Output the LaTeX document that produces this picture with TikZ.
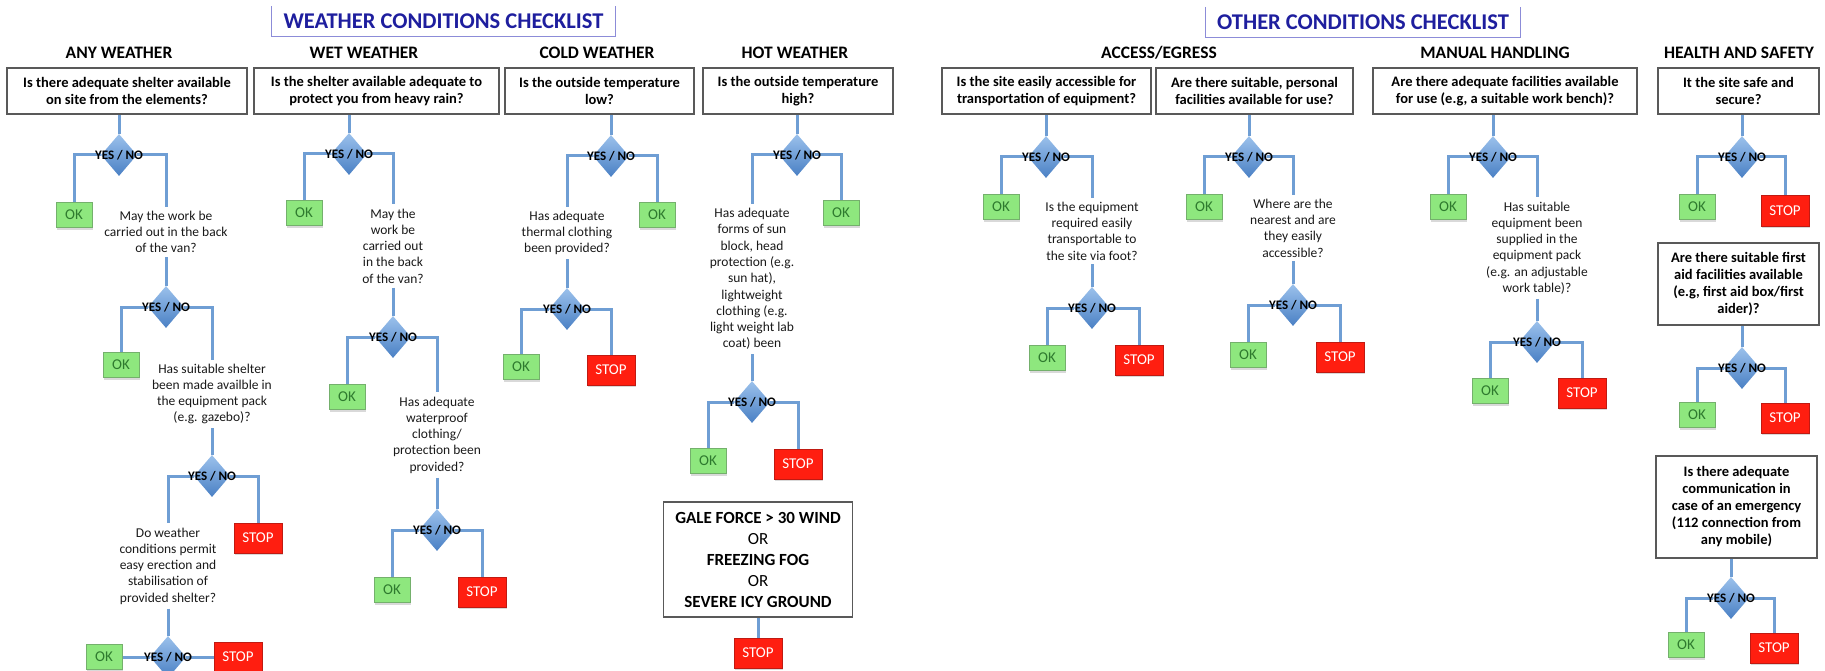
\documentclass[tikz,border=0pt]{standalone}
\usepackage{fontspec}
\setmainfont{Carlito}
\usetikzlibrary{shapes.geometric,backgrounds,shadows}

\definecolor{linkblue}{HTML}{6F9ED4}
\definecolor{diatop}{HTML}{9BC1EC}
\definecolor{diabot}{HTML}{4A80C4}
\definecolor{okfill}{HTML}{8EE77E}
\definecolor{okline}{HTML}{74B06C}
\definecolor{oktext}{HTML}{2E7A2E}
\definecolor{stopfill}{HTML}{FF1E10}
\definecolor{stopline}{HTML}{C01A12}
\definecolor{titleblue}{HTML}{1E1E9E}
\definecolor{titleframe}{HTML}{8C8CD8}

\tikzset{
  question/.style={draw=black!65, line width=1.4pt, fill=white, align=center, inner sep=2pt,
    font=\bfseries\fontsize{14.5}{17}\selectfont},
  heading/.style={font=\bfseries\fontsize{17.5}{20}\selectfont},
  note/.style={align=center, inner sep=4pt, text=black!90, font=\fontsize{13.5}{16.3}\selectfont},
  decision/.style={diamond, minimum width=36pt, minimum height=42pt, inner sep=0pt,
    top color=diatop, bottom color=diabot,
    label={[inner sep=0pt, font=\bfseries\fontsize{13}{13}\selectfont]center:YES / NO}},
  okbox/.style={draw=okline, line width=1pt, fill=okfill, text=oktext, inner sep=0pt,
    minimum width=36pt, minimum height=25pt, font=\fontsize{15}{15}\selectfont,
    drop shadow={opacity=0.3, shadow xshift=1pt, shadow yshift=-2pt}},
  stopbox/.style={draw=stopline, line width=1pt, fill=stopfill, text=white, inner sep=0pt,
    minimum width=48pt, minimum height=30pt, font=\fontsize{15}{15}\selectfont,
    drop shadow={opacity=0.3, shadow xshift=1pt, shadow yshift=-2pt}},
  conn/.style={draw=linkblue, line width=3pt},
  titletext/.style={text=titleblue, minimum height=30pt, font=\bfseries\fontsize{22.5}{25}\selectfont},
  titleside/.style={draw=titleframe, line width=1.2pt},
}

\begin{document}
\begin{tikzpicture}[x=1pt,y=-1pt]
      \useasboundingbox (0,0) rectangle (1825,671);

      \node[titletext, minimum width=343pt] (wtitle) at (443.5,21.5) {WEATHER CONDITIONS CHECKLIST};
      \node[titletext, minimum width=314pt] (otitle) at (1363,22) {OTHER CONDITIONS CHECKLIST};
      \draw[titleside] (wtitle.north west) -- (wtitle.south west) -- (wtitle.south east) -- (wtitle.north east);
      \draw[titleside] (otitle.north west) -- (otitle.south west) -- (otitle.south east) -- (otitle.north east);

      \node[heading] (hany) at (119,53) {ANY WEATHER};
      \node[heading] (hwet) at (364,53) {WET WEATHER};
      \node[heading] (hcold) at (597,53) {COLD WEATHER};
      \node[heading] (hhot) at (795,53) {HOT WEATHER};
      \node[heading] (hacc) at (1159,53) {ACCESS/EGRESS};
      \node[heading] (hman) at (1495,53) {MANUAL HANDLING};
      \node[heading] (hsafe) at (1739,53) {HEALTH AND SAFETY};

      \node[question, minimum width=240pt, minimum height=46pt] (qany) at (127,91)
        {Is there adequate shelter available\\on site from the elements?};
      \node[question, minimum width=245pt, minimum height=46pt] (qwet) at (376.5,91)
        {Is the shelter available adequate to\\protect you from heavy rain?};
      \node[question, minimum width=189pt, minimum height=46pt] (qcold) at (599.5,91)
        {Is the outside temperature\\low?};
      \node[question, minimum width=190pt, minimum height=46pt] (qhot) at (798,91)
        {Is the outside temperature\\high?};
      \node[question, minimum width=209pt, minimum height=46pt] (qacc) at (1046.5,91)
        {Is the site easily accessible for\\transportation of equipment?};
      \node[question, minimum width=197pt, minimum height=46pt] (qfac) at (1254.5,91)
        {Are there suitable, personal\\facilities available for use?};
      \node[question, minimum width=264pt, minimum height=46pt] (qman) at (1505,91)
        {Are there adequate facilities available\\for use (e.g, a suitable work bench)?};
      \node[question, minimum width=161pt, minimum height=46pt] (qsafe) at (1738.5,91)
        {It the site safe and\\secure?};
      \node[question, minimum width=161pt, minimum height=82pt] (qaid) at (1738.5,284)
        {Are there suitable first\\aid facilities available\\(e.g, first aid box/first\\aider)?};
      \node[question, minimum width=161pt, minimum height=102pt] (qcomm) at (1736.5,507)
        {Is there adequate\\communication in\\case of an emergency\\(112 connection from\\any mobile)};
      \node[question, minimum width=189pt, minimum height=115pt, font=\bfseries\fontsize{17}{21}\selectfont] (gale) at (758,559.5)
        {GALE FORCE > 30 WIND\\{\mdseries OR}\\FREEZING FOG\\{\mdseries OR}\\SEVERE ICY GROUND};

      \node[decision] (da1) at (119,155) {};
      \node[decision] (da2) at (166,307) {};
      \node[decision] (da3) at (212,476) {};
      \node[decision] (da4) at (168,657) {};
      \node[decision] (dw1) at (349,154) {};
      \node[decision] (dw2) at (393,337) {};
      \node[decision] (dw3) at (437,530) {};
      \node[decision] (dc1) at (611,156) {};
      \node[decision] (dc2) at (567,309) {};
      \node[decision] (dh1) at (797,155) {};
      \node[decision] (dh2) at (752,402) {};
      \node[decision] (dx1) at (1046,157) {};
      \node[decision] (dx2) at (1092,308) {};
      \node[decision] (df1) at (1249,157) {};
      \node[decision] (df2) at (1293,305) {};
      \node[decision] (dm1) at (1493,157) {};
      \node[decision] (dm2) at (1537,342) {};
      \node[decision] (ds1) at (1742,157) {};
      \node[decision] (ds2) at (1742,368) {};
      \node[decision] (ds3) at (1731,598) {};

      \node[note] (ta1) at (166,232) {May the work be\\carried out in the back\\of the van?};
      \node[note] (ta2) at (212,394) {Has suitable shelter\\been made availble in\\the equipment pack\\(e.g. gazebo)?};
      \node[note] (ta3) at (168,566) {Do weather\\conditions permit\\easy erection and\\stabilisation of\\provided shelter?};
      \node[note] (tw1) at (393,246) {May the\\work be\\carried out\\in the back\\of the van?};
      \node[note] (tw2) at (437,435) {Has adequate\\waterproof\\clothing/\\protection been\\provided?};
      \node[note] (tc1) at (567,233) {Has adequate\\thermal clothing\\been provided?};
      \node[note] (th1) at (752,279) {Has adequate\\forms of sun\\block, head\\protection (e.g.\\sun hat),\\lightweight\\clothing (e.g.\\light weight lab\\coat) been};
      \node[note] (tx1) at (1092,231) {Is the equipment\\required easily\\transportable to\\the site via foot?};
      \node[note] (tf1) at (1293,228) {Where are the\\nearest and are\\they easily\\accessible?};
      \node[note] (tm1) at (1537,248) {Has suitable\\equipment been\\supplied in the\\equipment pack\\(e.g. an adjustable\\work table)?};

      \node[okbox] (oa1) at (74,215) {OK};
      \node[okbox] (oa2) at (121,365) {OK};
      \node[okbox] (oa3) at (104,657) {OK};
      \node[okbox] (ow1) at (304,213) {OK};
      \node[okbox] (ow2) at (347,397) {OK};
      \node[okbox] (ow3) at (392,590) {OK};
      \node[okbox] (oc1) at (657,215) {OK};
      \node[okbox] (oc2) at (521,367) {OK};
      \node[okbox] (oh1) at (841,213) {OK};
      \node[okbox] (oh2) at (708,461) {OK};
      \node[okbox] (ox1) at (1001,207) {OK};
      \node[okbox] (ox2) at (1047,358) {OK};
      \node[okbox] (of1) at (1204,207) {OK};
      \node[okbox] (of2) at (1248,355) {OK};
      \node[okbox] (om1) at (1448,207) {OK};
      \node[okbox] (om2) at (1490,391) {OK};
      \node[okbox] (os1) at (1697,207) {OK};
      \node[okbox] (os2) at (1697,415) {OK};
      \node[okbox] (os3) at (1686,645) {OK};

      \node[stopbox] (sa1) at (258,538) {STOP};
      \node[stopbox] (sa2) at (238,657) {STOP};
      \node[stopbox] (sw3) at (482,592) {STOP};
      \node[stopbox] (sc2) at (611,370) {STOP};
      \node[stopbox] (sh2) at (798,464) {STOP};
      \node[stopbox] (sh3) at (758,653) {STOP};
      \node[stopbox] (sx2) at (1139,360) {STOP};
      \node[stopbox] (sf2) at (1340,357) {STOP};
      \node[stopbox] (sm2) at (1582,393) {STOP};
      \node[stopbox] (ss1) at (1785,211) {STOP};
      \node[stopbox] (ss2) at (1785,418) {STOP};
      \node[stopbox] (ss3) at (1774,648) {STOP};

      \begin{pgfonlayer}{background}
      \draw[conn] (da1.north |- qany.south) -- (da1.north)
                  (da1.west) -| (oa1.north)
                  (da1.east) -| (ta1.north)
                  (ta1.south) -- (da2.north)
                  (da2.west) -| (oa2.north)
                  (da2.east) -| (ta2.north)
                  (ta2.south) -- (da3.north)
                  (da3.west) -| (ta3.north)
                  (da3.east) -| (sa1.north)
                  (ta3.south) -- (da4.north)
                  (oa3.east) -- (da4.west)
                  (da4.east) -- (sa2.west);

      \draw[conn] (dw1.north |- qwet.south) -- (dw1.north)
                  (dw1.west) -| (ow1.north)
                  (dw1.east) -| (tw1.north)
                  (tw1.south) -- (dw2.north)
                  (dw2.west) -| (ow2.north)
                  (dw2.east) -| (tw2.north)
                  (tw2.south) -- (dw3.north)
                  (dw3.west) -| (ow3.north)
                  (dw3.east) -| (sw3.north);

      \draw[conn] (dc1.north |- qcold.south) -- (dc1.north)
                  (dc1.west) -| (tc1.north)
                  (dc1.east) -| (oc1.north)
                  (tc1.south) -- (dc2.north)
                  (dc2.west) -| (oc2.north)
                  (dc2.east) -| (sc2.north);

      \draw[conn] (dh1.north |- qhot.south) -- (dh1.north)
                  (dh1.west) -| (th1.north)
                  (dh1.east) -| (oh1.north)
                  (th1.south) -- (dh2.north)
                  (dh2.west) -| (oh2.north)
                  (dh2.east) -| (sh2.north)
                  (gale.south) -- (sh3.north);

      \draw[conn] (dx1.north |- qacc.south) -- (dx1.north)
                  (dx1.west) -| (ox1.north)
                  (dx1.east) -| (tx1.north)
                  (tx1.south) -- (dx2.north)
                  (dx2.west) -| (ox2.north)
                  (dx2.east) -| (sx2.north);

      \draw[conn] (df1.north |- qfac.south) -- (df1.north)
                  (df1.west) -| (of1.north)
                  (df1.east) -| (tf1.north)
                  (tf1.south) -- (df2.north)
                  (df2.west) -| (of2.north)
                  (df2.east) -| (sf2.north);

      \draw[conn] (dm1.north |- qman.south) -- (dm1.north)
                  (dm1.west) -| (om1.north)
                  (dm1.east) -| (tm1.north)
                  (tm1.south) -- (dm2.north)
                  (dm2.west) -| (om2.north)
                  (dm2.east) -| (sm2.north);

      \draw[conn] (ds1.north |- qsafe.south) -- (ds1.north)
                  (ds1.west) -| (os1.north)
                  (ds1.east) -| (ss1.north)
                  (ds2.north |- qaid.south) -- (ds2.north)
                  (ds2.west) -| (os2.north)
                  (ds2.east) -| (ss2.north)
                  (ds3.north |- qcomm.south) -- (ds3.north)
                  (ds3.west) -| (os3.north)
                  (ds3.east) -| (ss3.north);
      \end{pgfonlayer}
    \end{tikzpicture}
\end{document}
